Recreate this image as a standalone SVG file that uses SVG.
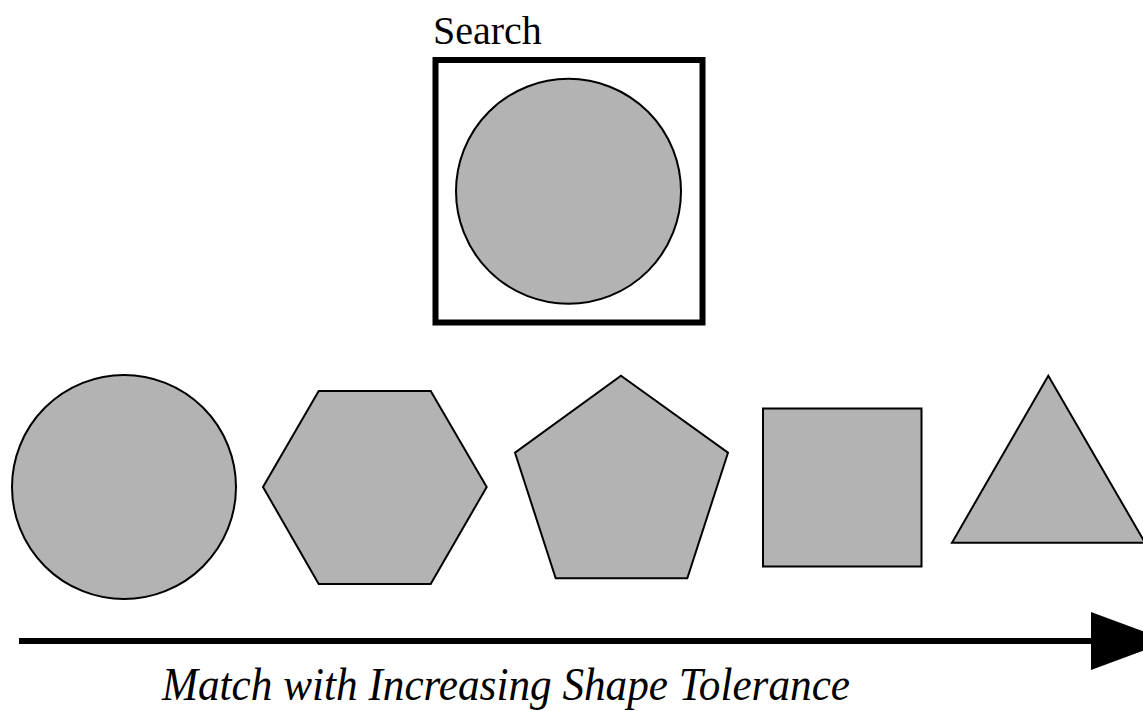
<svg xmlns="http://www.w3.org/2000/svg" width="1143" height="711" viewBox="0 0 1143 711">
  <style>
    .shape { fill: #b3b3b3; stroke: #000; stroke-width: 2; stroke-linejoin: miter; }
    .frame { fill: none; stroke: #000; stroke-width: 6; }
    .label { fill: #000; font-family: 'Liberation Serif', 'Tinos', 'Times New Roman', Times, 'DejaVu Serif', serif; }
    .caption { font-style: italic; font-size: 46px; }
  </style>
  <defs>
    <marker id="arrowhead" markerUnits="userSpaceOnUse" markerWidth="80" markerHeight="60" refX="0" refY="30" orient="auto">
      <path d="M0,1 L78,30 L0,59 Z" fill="#000"/>
    </marker>
  </defs>
  <rect width="1143" height="711" fill="#fff"/>

  <!-- query shape inside its search frame -->
  <g id="search">
    <text class="label" x="433" y="44" font-size="40">Search</text>
    <rect class="frame" x="435.5" y="60" width="267" height="262.5"/>
    <circle class="shape" cx="568.5" cy="191.3" r="112.5"/>
  </g>

  <!-- candidate shapes, ordered by tolerance -->
  <g id="circle">
    <circle class="shape" cx="124" cy="487" r="112"/>
  </g>
  <g id="hexagon">
    <polygon class="shape" points="263,487 318.7,391 430.7,391 486.7,487 430.7,584 318.7,584"/>
  </g>
  <g id="pentagon">
    <polygon class="shape" points="621,375.7 728,452.7 687.3,578.3 555.7,578.3 515,452.7"/>
  </g>
  <g id="square">
    <rect class="shape" x="763" y="408.5" width="158.5" height="158"/>
  </g>
  <g id="triangle">
    <polygon class="shape" points="1048.3,375.7 1145,542.7 952,542.7"/>
  </g>

  <!-- tolerance axis -->
  <g id="connectors">
    <line x1="19" y1="641" x2="1091" y2="641" stroke="#000" stroke-width="6" marker-end="url(#arrowhead)"/>
  </g>
  <text class="label caption" x="162" y="700" textLength="688" lengthAdjust="spacingAndGlyphs">Match with Increasing Shape Tolerance</text>
</svg>
